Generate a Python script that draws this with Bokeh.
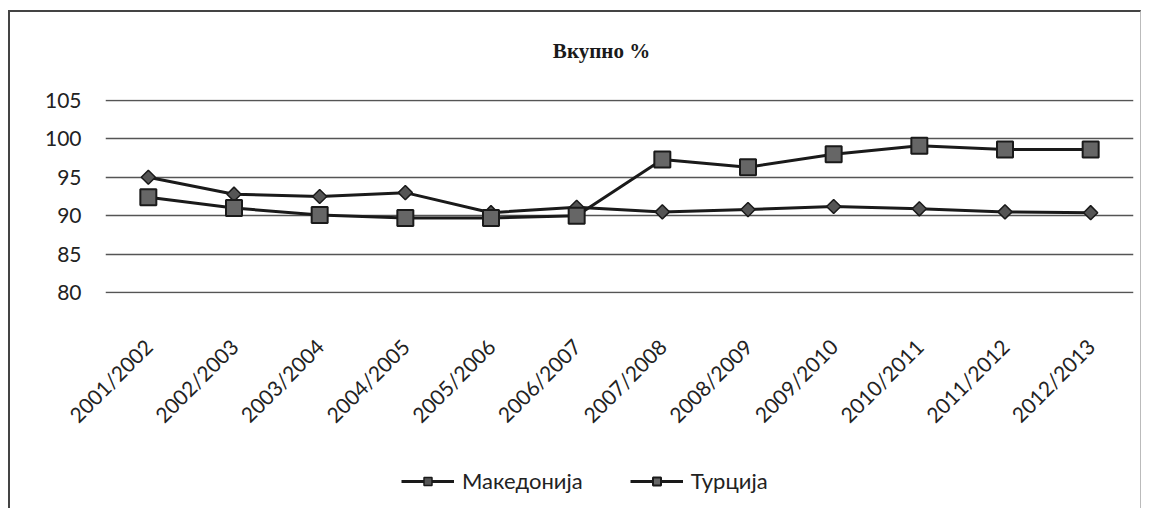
import math
from bokeh.plotting import figure
from bokeh.layouts import column
from bokeh.models import Legend, LegendItem, SingleIntervalTicker, FactorRange, Range1d, Label
from bokeh.embed import file_html
from bokeh.resources import INLINE

years = ["2001/2002", "2002/2003", "2003/2004", "2004/2005", "2005/2006", "2006/2007",
         "2007/2008", "2008/2009", "2009/2010", "2010/2011", "2011/2012", "2012/2013"]
makedonija = [95.0, 92.8, 92.5, 93.0, 90.4, 91.1, 90.5, 90.8, 91.2, 90.9, 90.5, 90.4]
turcija = [92.4, 91.0, 90.1, 89.7, 89.7, 90.0, 97.3, 96.3, 98.0, 99.1, 98.6, 98.6]
series_names = ["Македонија", "Турција"]
title_text = "Вкупно %"

LINE = dict(line_color="#1a1a1a", line_width=3)
DIAMOND = dict(marker="square", angle=math.pi / 4, size=10, fill_color="#555555",
               line_color="#1a1a1a", line_width=1.5)
SQUARE = dict(marker="square", size=16, fill_color="#666666", line_color="#1a1a1a",
              line_width=2)
W = 1130
FRAME_W = 1028  # frame width shared by all three stacked figures (column aligns frames)


def strip(height, x_range, y_range):
    f = figure(width=W, height=height, x_range=x_range, y_range=y_range,
               output_backend="svg", toolbar_location=None, min_border=0,
               x_axis_location=None, y_axis_location=None)
    f.grid.visible = False
    f.outline_line_color = None
    f.background_fill_color = "white"
    f.border_fill_color = "white"
    return f


# title strip
t = strip(66, Range1d(0, FRAME_W), Range1d(0, 66))
t.add_layout(Label(x=496, y=28, text=title_text, text_align="center",
                   text_baseline="middle", text_font="Liberation Serif",
                   text_font_size="21px", text_font_style="bold", text_color="#1a1a1a"))

# main chart
p = figure(width=W, height=366, x_range=FactorRange(*years, range_padding=0),
           y_range=Range1d(79.9, 105.1), output_backend="svg", toolbar_location=None,
           min_border_left=95, min_border_right=7, min_border_top=21, min_border_bottom=151)
p.outline_line_color = None
p.background_fill_color = "white"
p.border_fill_color = "white"
p.xgrid.grid_line_color = None
p.ygrid.grid_line_color = "#555555"
p.ygrid.grid_line_width = 1.3
p.yaxis.ticker = SingleIntervalTicker(interval=5)
for ax in (p.xaxis, p.yaxis):
    ax.axis_line_color = None
    ax.major_tick_line_color = None
    ax.minor_tick_line_color = None
    ax.major_tick_out = 0
    ax.major_tick_in = 0
    ax.minor_tick_out = 0
    ax.major_label_text_font = "Lato"
    ax.major_label_text_color = "#222222"
p.yaxis.major_label_text_font_size = "21px"
p.yaxis.major_label_standoff = 24
p.xaxis.major_label_text_font_size = "21px"
p.xaxis.major_label_orientation = math.pi / 4
p.xaxis.major_label_standoff = 49

p.line(years, makedonija, **LINE)
p.scatter(years, makedonija, **DIAMOND)
p.line(years, turcija, **LINE)
p.scatter(years, turcija, **SQUARE)

# legend strip: same series, drawn outside its visible y range, only the keys show
q = strip(64, FactorRange(*years, range_padding=0), Range1d(0, 1))
kl1 = q.line(years, makedonija, **LINE)
km1 = q.scatter(years, makedonija, **DIAMOND)
kl2 = q.line(years, turcija, **LINE)
km2 = q.scatter(years, turcija, **SQUARE)
legend = Legend(items=[LegendItem(label=series_names[0], renderers=[kl1, km1]),
                       LegendItem(label=series_names[1], renderers=[kl2, km2])],
                orientation="horizontal", location=(296, 14),
                label_text_font="Lato", label_text_font_size="22px",
                label_text_color="#222222", border_line_color=None,
                background_fill_alpha=0, glyph_width=53, spacing=47,
                label_standoff=8, padding=4, margin=0)
q.add_layout(legend)

layout = column(t, p, q, spacing=0)
layout.styles = {"border-top": "2px solid #444", "border-left": "2px solid #444",
                 "border-right": "1px solid #bbb", "margin-left": "8px",
                 "margin-top": "10px"}

open("out.html", "w").write(file_html(layout, INLINE))
